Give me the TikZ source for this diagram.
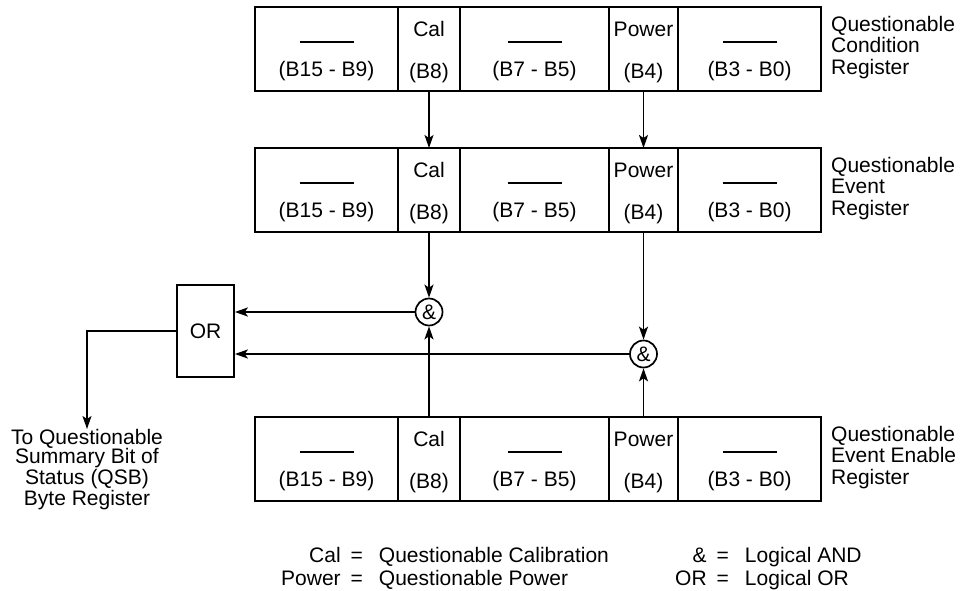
\documentclass[tikz,border=0pt]{standalone}
\usepackage{fontspec}
\setmainfont{Liberation Sans}
\usetikzlibrary{positioning,arrows.meta}

\begin{document}
\begin{tikzpicture}[x=1pt, y=-1pt,
    every node/.style={font=\fontsize{21}{21.5}\selectfont},
    cell/.style={rectangle, draw, line width=1.7pt, minimum height=84pt, inner sep=0pt, outer sep=0pt},
    gate/.style={circle, draw, line width=1.7pt, minimum size=27pt, inner sep=0pt},
    reglabel/.style={align=left, inner sep=0pt, anchor=north west},
    arr/.style={line width=1.7pt, -{Stealth[length=13pt, width=9pt, inset=3pt]}}]

\useasboundingbox (0,0) rectangle (963,591);

% Registers
\foreach \r/\t/\name in {cond/7/Condition, event/148/Event, enable/417/Event Enable} {
  \node[cell, minimum width=143pt, anchor=north west] (\r-hi) at (255,\t) {};
  \node[cell, minimum width=62pt, right=0pt of \r-hi] (\r-cal) {};
  \node[cell, minimum width=149pt, right=0pt of \r-cal] (\r-mid) {};
  \node[cell, minimum width=69pt, right=0pt of \r-mid] (\r-pow) {};
  \node[cell, minimum width=143pt, right=0pt of \r-pow] (\r-lo) {};
  % unused bit groups
  \foreach \c/\bits in {hi/{(B15 - B9)}, mid/{(B7 - B5)}, lo/{(B3 - B0)}} {
    \draw[line width=1.5pt] ([xshift=-27pt,yshift=-35pt]\r-\c.north) -- ++(54,0);
    \node (\r-\c-bits) at ([yshift=-64pt]\r-\c.north) {\bits};
  }
  % Cal and Power bits
  \node (\r-cal-name) at ([yshift=-22pt]\r-cal.north) {Cal};
  \node (\r-cal-bits) at ([yshift=-66pt]\r-cal.north) {(B8)};
  \node (\r-pow-name) at ([yshift=-22pt]\r-pow.north) {Power};
  \node (\r-pow-bits) at ([yshift=-66pt]\r-pow.north) {(B4)};
  % register name
  \node[reglabel] (\r-name) at ([xshift=10pt,yshift=-9pt]\r-lo.north east) {Questionable\\\name\\Register};
}

% Logic
\node[gate] (calAnd) at (429,312) {\&};
\node[gate] (powAnd) at (643.5,354) {\&};
\node[draw, line width=1.7pt, minimum width=57pt, minimum height=92pt] (orgate) at (205.5,331) {OR};
\node[align=center, inner sep=0pt, anchor=north, font=\fontsize{21}{19.5}\selectfont] (qsb) at (87,429) {To Questionable\\Summary Bit of\\Status (QSB)\\Byte Register};

% Arrows
\draw[arr] (cond-cal.south) -- (event-cal.north);
\draw[arr] (cond-pow.south) -- (event-pow.north);
\draw[arr] (event-cal.south) -- (calAnd);
\draw[arr] (enable-cal.north) -- (calAnd);
\draw[arr] (event-pow.south) -- (powAnd);
\draw[arr] (enable-pow.north) -- (powAnd);
\draw[arr] (calAnd) -- (calAnd -| orgate.east);
\draw[arr] (powAnd) -- (powAnd -| orgate.east);
\draw[arr] (orgate) -| (qsb.north);

% Legend
\node[anchor=base west, inner sep=0pt, font=\fontsize{21}{23}\selectfont] (keyBits) at (281,562)
  {\begin{tabular}[t]{@{}r@{\hspace{10pt}}c@{\hspace{16pt}}l@{}}
   Cal & = & Questionable Calibration\\
   Power & = & Questionable Power
   \end{tabular}};
\node[anchor=base west, inner sep=0pt, font=\fontsize{21}{23}\selectfont] (keyGates) at (675,562)
  {\begin{tabular}[t]{@{}r@{\hspace{10pt}}c@{\hspace{16pt}}l@{}}
   \& & = & Logical AND\\
   OR & = & Logical OR
   \end{tabular}};

\end{tikzpicture}
\end{document}
